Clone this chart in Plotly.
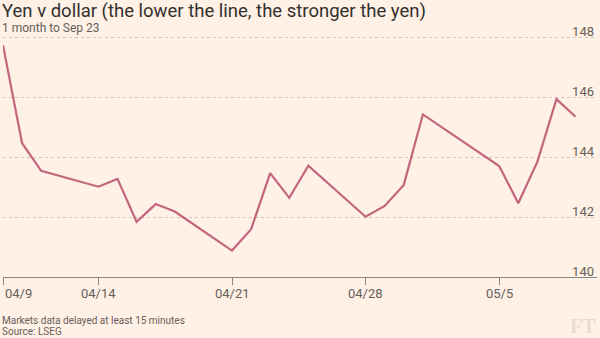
import plotly.graph_objects as go

# USD/JPY daily closes
dates = [
    "2025-04-09", "2025-04-10", "2025-04-11", "2025-04-14", "2025-04-15",
    "2025-04-16", "2025-04-17", "2025-04-18", "2025-04-21", "2025-04-22",
    "2025-04-23", "2025-04-24", "2025-04-25", "2025-04-28", "2025-04-29",
    "2025-04-30", "2025-05-01", "2025-05-05", "2025-05-06", "2025-05-07",
    "2025-05-08", "2025-05-09",
]
yen_per_dollar = [
    147.73, 144.46, 143.54, 143.01, 143.27,
    141.84, 142.43, 142.18, 140.88, 141.59,
    143.46, 142.64, 143.71, 142.01, 142.37,
    143.07, 145.42, 143.70, 142.46, 143.84,
    145.93, 145.34,
]

x_tick_vals = ["2025-04-09", "2025-04-14", "2025-04-21", "2025-04-28", "2025-05-05"]
x_tick_text = ["04/9", "04/14", "04/21", "04/28", "05/5"]
y_tick_vals = [140, 142, 144, 146, 148]

title = "Yen v dollar (the lower the line, the stronger the yen)"
subtitle = "1 month to Sep 23"
footnote = "Markets data delayed at least 15 minutes"
source = "Source: LSEG"

BG = "#FFF1E5"
GREY = "#66605C"
FONT = "Roboto"

W, H = 600, 338
M_L, M_R, M_T, M_B = 3, 3, 22, 61
PLOT_H = H - M_T - M_B
PX_PER_UNIT = 30  # vertical pixels per yen
Y_TOP = 140 + PLOT_H / PX_PER_UNIT


def py(pixel_y):
    """Convert a page pixel row to paper y."""
    return (H - M_B - pixel_y) / PLOT_H


fig = go.Figure()
fig.add_trace(go.Scatter(
    x=dates, y=yen_per_dollar, mode="lines",
    line=dict(color="#C2667F", width=2.2),
    hoverinfo="skip",
))

annotations = [
    dict(text=title, x=0, y=py(11), xref="paper", yref="paper", xshift=-M_L,
         xanchor="left", yanchor="middle", showarrow=False,
         font=dict(family=FONT, size=18.5, color="#33302E")),
    dict(text=subtitle, x=0, y=py(28), xref="paper", yref="paper", xshift=-M_L,
         xanchor="left", yanchor="middle", showarrow=False,
         font=dict(family=FONT, size=12, color=GREY)),
    dict(text=footnote, x=0, y=py(320), xref="paper", yref="paper", xshift=-M_L,
         xanchor="left", yanchor="middle", showarrow=False,
         font=dict(family=FONT, size=10, color=GREY)),
    dict(text=source, x=0, y=py(331), xref="paper", yref="paper", xshift=-M_L,
         xanchor="left", yanchor="middle", showarrow=False,
         font=dict(family=FONT, size=10, color=GREY)),
    dict(text="<b>FT</b>", x=1, y=py(326), xref="paper", yref="paper", xshift=1,
         xanchor="right", yanchor="middle", showarrow=False,
         font=dict(family="Liberation Serif", size=20, color="#EADCCF")),
]

# x tick labels; the first one hangs to the right of its tick
for i, (v, t) in enumerate(zip(x_tick_vals, x_tick_text)):
    annotations.append(dict(
        text=t, x=v, y=py(293), xref="x", yref="paper",
        xanchor="left" if i == 0 else "center", yanchor="middle",
        showarrow=False,
        font=dict(family=FONT, size=13, color=GREY),
    ))

fig.update_layout(
    width=W, height=H,
    margin=dict(l=M_L, r=M_R, t=M_T, b=M_B, pad=0),
    paper_bgcolor=BG, plot_bgcolor=BG,
    showlegend=False,
    annotations=annotations,
    xaxis=dict(
        type="date",
        range=["2025-04-09", "2025-05-10 03:00"],
        tickvals=x_tick_vals, showticklabels=False,
        ticks="outside", ticklen=7, tickcolor="#8C8680", tickwidth=1,
        showline=True, linecolor="#8C8680", linewidth=1,
        showgrid=False, zeroline=False, fixedrange=True,
    ),
    yaxis=dict(
        range=[140, Y_TOP], side="right",
        tickvals=y_tick_vals, ticklabelposition="inside top",
        ticklabeloverflow="allow", ticklabelshift=4,
        ticks="", tickfont=dict(family=FONT, size=13, color=GREY),
        showgrid=True, gridcolor="#CFC5B9", gridwidth=1, griddash="3px,3px",
        zeroline=False, showline=False, fixedrange=True,
    ),
)

fig.write_html("out.html")
